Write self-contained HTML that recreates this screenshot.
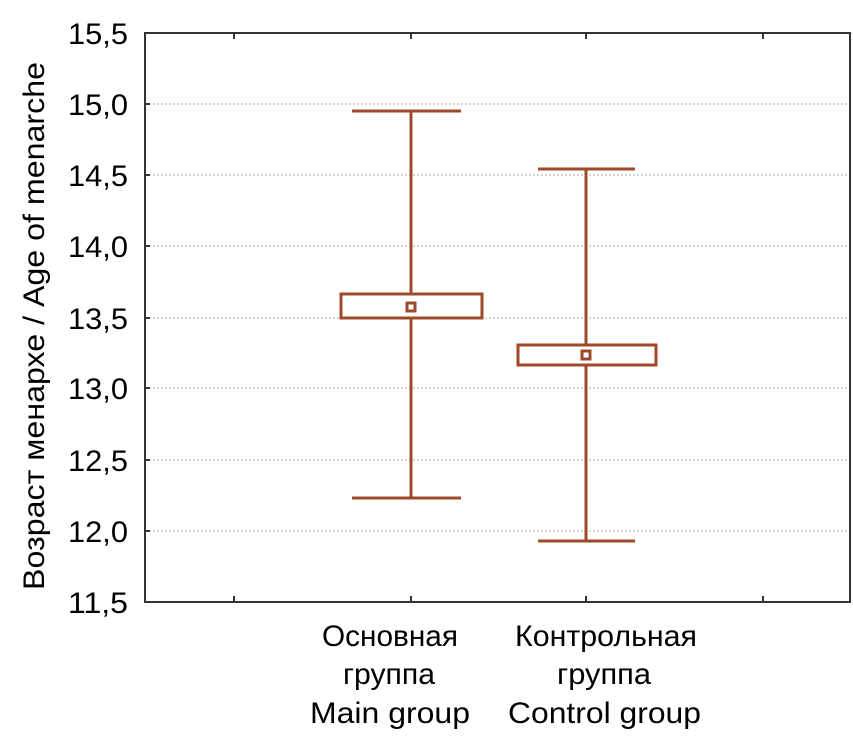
<!DOCTYPE html>
<html><head><meta charset="utf-8"><style>body{margin:0;background:#fff}svg{display:block}</style></head>
<body>
<svg width="853" height="739" viewBox="0 0 853 739" font-family="'Liberation Sans', sans-serif" font-size="30" fill="#000">
<g stroke="#c8c8c8" stroke-width="1.5" stroke-dasharray="2,2">
<line x1="145" x2="850" y1="104" y2="104"/><line x1="145" x2="850" y1="175" y2="175"/>
<line x1="145" x2="850" y1="246" y2="246"/><line x1="145" x2="850" y1="318" y2="318"/>
<line x1="145" x2="850" y1="388" y2="388"/><line x1="145" x2="850" y1="460" y2="460"/>
<line x1="145" x2="850" y1="531" y2="531"/>
</g>
<g stroke="#333" stroke-width="2" fill="none">
<rect x="145" y="33" width="705" height="569"/>
<path d="M145 104h5M145 175h5M145 246h5M145 318h5M145 388h5M145 460h5M145 531h5"/>
<path d="M234 602v-6M411 602v-6M586 602v-6M763 602v-6M234 33v6M411 33v6M586 33v6M763 33v6"/>
</g>
<g stroke="#a0482a" stroke-width="3" fill="#fff">
<line x1="411" y1="111" x2="411" y2="498"/><line x1="352" x2="461" y1="111" y2="111"/><line x1="352" x2="461" y1="498" y2="498"/>
<rect x="341" y="294" width="141" height="24"/><rect x="407" y="303" width="8" height="8"/>
<line x1="586" y1="169" x2="586" y2="541"/><line x1="538" x2="635" y1="169" y2="169"/><line x1="538" x2="635" y1="541" y2="541"/>
<rect x="518" y="345" width="138" height="20"/><rect x="582" y="351" width="8" height="8"/>
</g>
<g text-anchor="end">
<text x="128" y="44" textLength="60" lengthAdjust="spacingAndGlyphs">15,5</text>
<text x="128" y="115" textLength="60" lengthAdjust="spacingAndGlyphs">15,0</text>
<text x="128" y="186" textLength="60" lengthAdjust="spacingAndGlyphs">14,5</text>
<text x="128" y="257" textLength="60" lengthAdjust="spacingAndGlyphs">14,0</text>
<text x="128" y="329" textLength="60" lengthAdjust="spacingAndGlyphs">13,5</text>
<text x="128" y="399" textLength="60" lengthAdjust="spacingAndGlyphs">13,0</text>
<text x="128" y="471" textLength="60" lengthAdjust="spacingAndGlyphs">12,5</text>
<text x="128" y="542" textLength="60" lengthAdjust="spacingAndGlyphs">12,0</text>
<text x="128" y="613" textLength="60" lengthAdjust="spacingAndGlyphs">11,5</text>
</g>
<text transform="translate(44,590) rotate(-90)" textLength="528" lengthAdjust="spacingAndGlyphs">Возраст менархе / Age of menarche</text>
<text x="322" y="646" textLength="136" lengthAdjust="spacingAndGlyphs">Основная</text>
<text x="343" y="684" textLength="92" lengthAdjust="spacingAndGlyphs">группа</text>
<text x="310" y="723" textLength="160" lengthAdjust="spacingAndGlyphs">Main group</text>
<text x="515" y="646" textLength="182" lengthAdjust="spacingAndGlyphs">Контрольная</text>
<text x="557" y="684" textLength="94" lengthAdjust="spacingAndGlyphs">группа</text>
<text x="508" y="723" textLength="193" lengthAdjust="spacingAndGlyphs">Control group</text>
</svg>
</body></html>
